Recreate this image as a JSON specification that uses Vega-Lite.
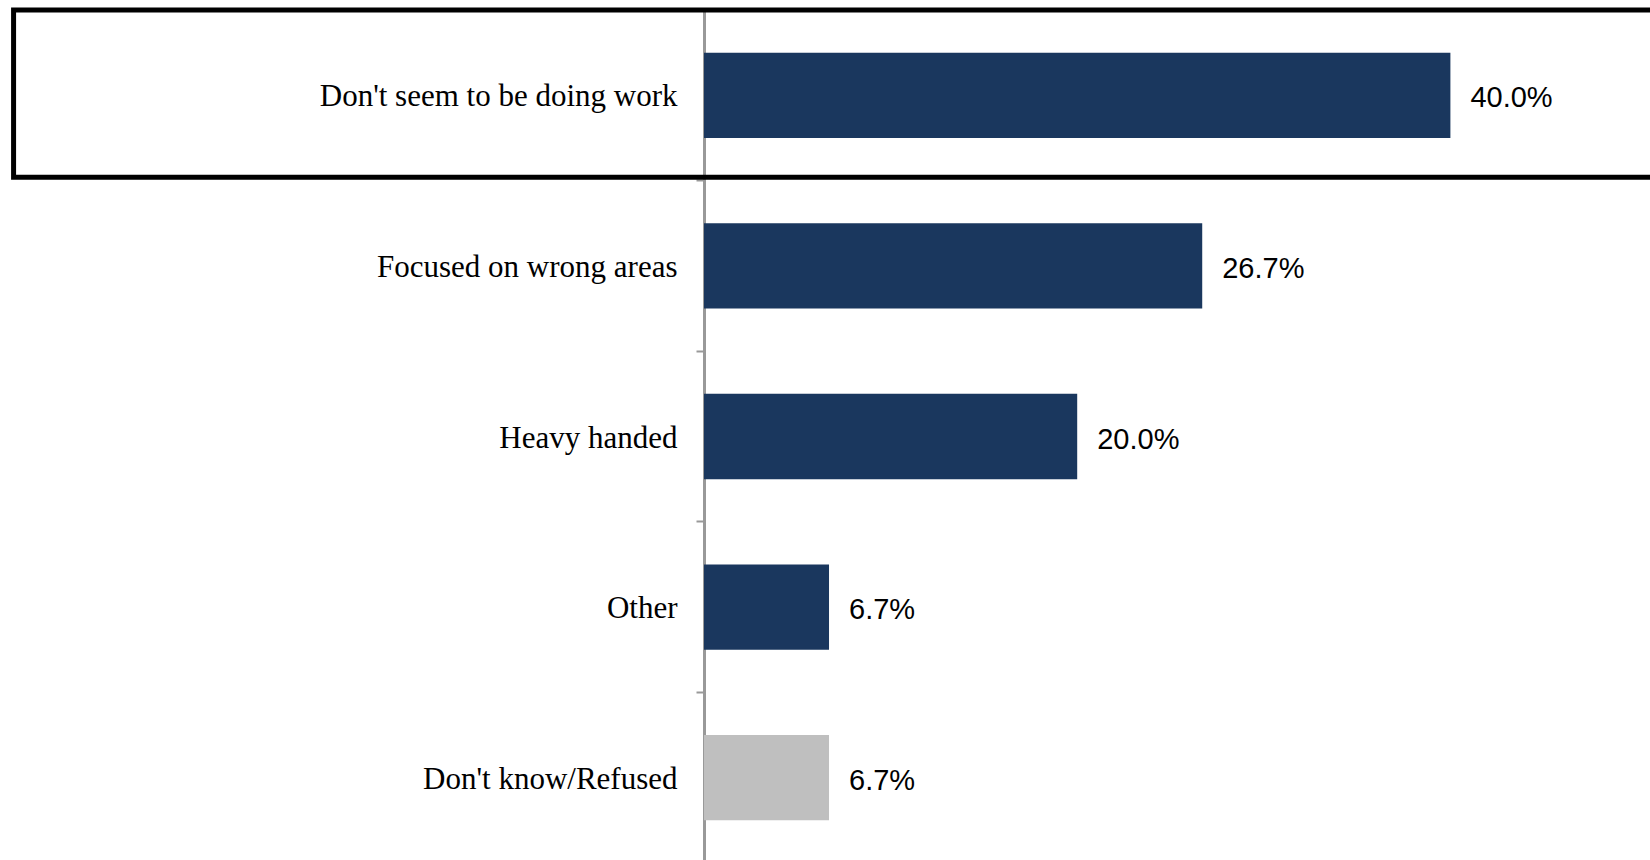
{
  "$schema": "https://vega.github.io/schema/vega-lite/v6.json",
  "autosize": {"type": "none"},
  "padding": {"left": 704, "top": 10, "right": 20, "bottom": 0},
  "width": 933,
  "height": 853,
  "background": "white",
  "config": {"view": {"stroke": null}},
  "data": {"values": [
    {"category": "Don't seem to be doing work", "pct": 40.0, "group": "answer"},
    {"category": "Focused on wrong areas", "pct": 26.7, "group": "answer"},
    {"category": "Heavy handed", "pct": 20.0, "group": "answer"},
    {"category": "Other", "pct": 6.7, "group": "answer"},
    {"category": "Don't know/Refused", "pct": 6.7, "group": "nonresponse"}
  ]},
  "encoding": {
    "y": {
      "field": "category",
      "type": "nominal",
      "sort": null,
      "scale": {"paddingInner": 0, "paddingOuter": 0},
      "axis": {
        "title": null,
        "bandPosition": 0,
        "labelOffset": 2,
        "tickSize": 8,
        "tickWidth": 2,
        "tickColor": "#999999",
        "domainColor": "#999999",
        "domainWidth": 3,
        "labelFont": "Liberation Serif",
        "labelFontSize": 31,
        "labelColor": "#000000",
        "labelPadding": 19,
        "labelLimit": 0,
        "grid": false
      }
    }
  },
  "layer": [
    {
      "mark": {"type": "bar", "height": {"band": 0.5}},
      "encoding": {
        "x": {"field": "pct", "type": "quantitative", "scale": {"domain": [0, 50]}, "axis": null},
        "color": {
          "field": "group",
          "type": "nominal",
          "scale": {"domain": ["answer", "nonresponse"], "range": ["#1A375E", "#BFBFBF"]},
          "legend": null
        }
      }
    },
    {
      "transform": [{"calculate": "format(datum.pct, '.1f') + '%'", "as": "label"}],
      "mark": {"type": "text", "align": "left", "baseline": "middle", "dx": 20, "dy": 3, "font": "Liberation Sans", "fontSize": 29, "color": "#000000"},
      "encoding": {
        "x": {"field": "pct", "type": "quantitative", "axis": null},
        "text": {"field": "label", "type": "nominal"}
      }
    },
    {
      "data": {"values": [{"category": "Don't seem to be doing work"}]},
      "mark": {"type": "rect", "fill": "white", "fillOpacity": 0, "stroke": "#000000", "strokeWidth": 5, "height": {"band": 0.98}, "yOffset": -1.7},
      "encoding": {
        "x": {"datum": -37.0, "type": "quantitative", "axis": null},
        "x2": {"datum": 56}
      }
    }
  ]
}
